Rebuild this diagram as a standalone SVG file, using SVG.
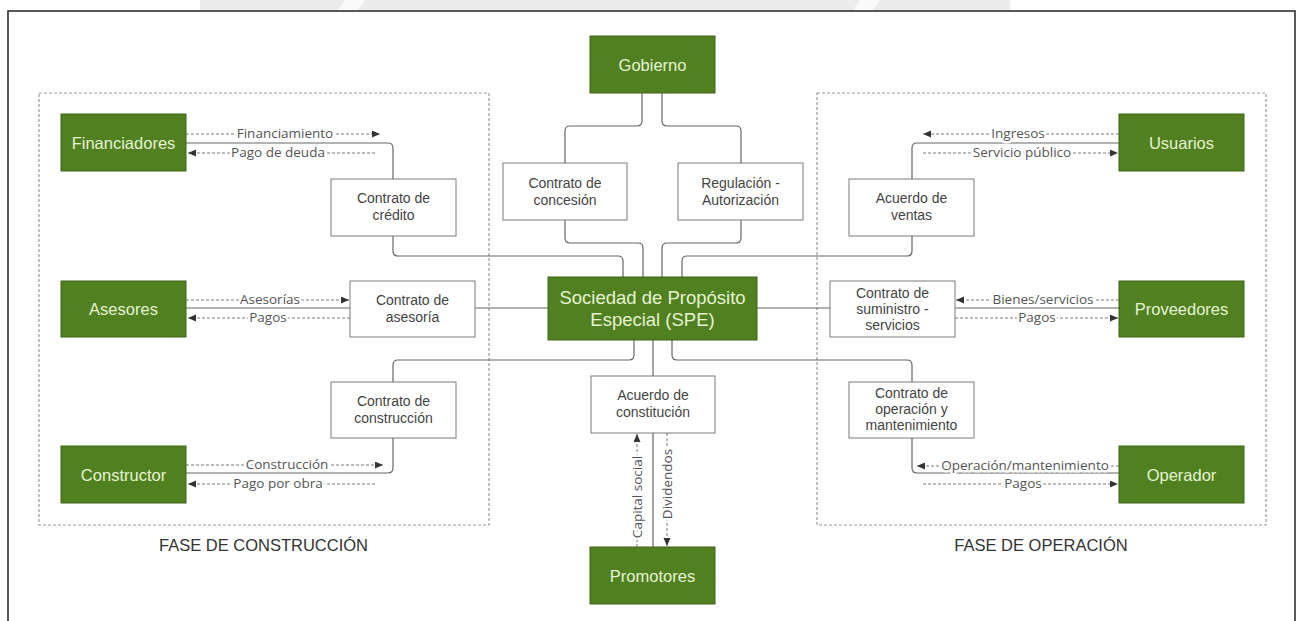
<svg xmlns="http://www.w3.org/2000/svg" width="1301" height="621" viewBox="0 0 1301 621">
<style>
.frame{fill:none;stroke:#222;stroke-width:1.5}
.phase{fill:none;stroke:#9a9a9a;stroke-width:1.2;stroke-dasharray:3 2}
.g rect{fill:#50801f;stroke:#3e651a;stroke-width:1}
.g text{font-family:"Liberation Sans",Arial,sans-serif;font-size:16.5px;fill:#e6f3d3;text-anchor:middle}
.w rect{fill:#fff;stroke:#7a7a7a;stroke-width:1}
.w text{font-family:"Liberation Sans",Arial,sans-serif;font-size:14px;fill:#444;text-anchor:middle}
.con{fill:none;stroke:#666;stroke-width:1.2}
.da{fill:none;stroke:#7a7a7a;stroke-width:1;stroke-dasharray:3 2}
.lbl{font-family:"Open Sans","Noto Sans",sans-serif;font-size:13.5px;fill:#555;text-anchor:middle;dominant-baseline:central;stroke:#fff;stroke-width:5;paint-order:stroke;stroke-linejoin:round}
.fase{font-family:"Liberation Sans",Arial,sans-serif;font-size:16.5px;fill:#333;text-anchor:middle}
</style>
<defs>
<marker id="ah" markerUnits="userSpaceOnUse" markerWidth="9" markerHeight="8" refX="8" refY="3.5" orient="auto">
<path d="M0,0 L8,3.5 L0,7 z" fill="#333"/>
</marker>
</defs>
<rect x="0" y="0" width="1301" height="621" fill="#fff"/>
<g id="watermark">
<rect x="200" y="0" width="810" height="10" fill="#ececec"/>
<polygon points="345,0 365,0 358,10 338,10" fill="#fafafa"/>
<polygon points="860,0 880,0 873,10 853,10" fill="#fafafa"/>
</g>
<rect class="frame" x="8" y="11" width="1287" height="630"/>
<g id="phase-construccion">
<rect class="phase" x="39" y="93" width="450" height="432"/>
<text class="fase" x="263.5" y="551">FASE DE CONSTRUCCIÓN</text>
</g>
<g id="phase-operacion">
<rect class="phase" x="817" y="93" width="449" height="432"/>
<text class="fase" x="1041" y="551">FASE DE OPERACIÓN</text>
</g>
<g id="connectors">
<path class="con" d="M642,93 V121 Q642,126 637,126 H570 Q565,126 565,131 V163"/>
<path class="con" d="M662,93 V121 Q662,126 667,126 H736 Q741,126 741,131 V163"/>
<path class="con" d="M565,220 V238 Q565,243 570,243 H638 Q643,243 643,248 V277"/>
<path class="con" d="M741,220 V238 Q741,243 736,243 H667 Q662,243 662,248 V277"/>
<path class="con" d="M186,143 H388 Q393,143 393,148 V179"/>
<path class="con" d="M393,236 V251 Q393,256 398,256 H618 Q623,256 623,261 V277"/>
<path class="con" d="M1119,143 H917 Q912,143 912,148 V179"/>
<path class="con" d="M912,236 V251 Q912,256 907,256 H687 Q682,256 682,261 V277"/>
<path class="con" d="M186,308 H350 M475,308 H548"/>
<path class="con" d="M757,308 H830 M955,308 H1119"/>
<path class="con" d="M634,340 V355 Q634,360 629,360 H398 Q393,360 393,365 V382"/>
<path class="con" d="M393,438 V468 Q393,473 388,473 H186"/>
<path class="con" d="M672,340 V355 Q672,360 677,360 H907 Q912,360 912,365 V382"/>
<path class="con" d="M912,438 V468 Q912,473 917,473 H1119"/>
<path class="con" d="M653,340 V376 M653,433 V547"/>
<path class="da" d="M186,134 H380" marker-end="url(#ah)"/>
<text class="lbl" x="285" y="133">Financiamiento</text>
<path class="da" d="M375,153 H188" marker-end="url(#ah)"/>
<text class="lbl" x="278" y="152">Pago de deuda</text>
<path class="da" d="M186,300 H349" marker-end="url(#ah)"/>
<text class="lbl" x="270" y="299">Asesorías</text>
<path class="da" d="M350,318 H188" marker-end="url(#ah)"/>
<text class="lbl" x="268" y="317">Pagos</text>
<path class="da" d="M186,465 H383" marker-end="url(#ah)"/>
<text class="lbl" x="287" y="464">Construcción</text>
<path class="da" d="M375,484 H188" marker-end="url(#ah)"/>
<text class="lbl" x="278" y="483">Pago por obra</text>
<path class="da" d="M1119,134 H923" marker-end="url(#ah)"/>
<text class="lbl" x="1018" y="133">Ingresos</text>
<path class="da" d="M923,153 H1118" marker-end="url(#ah)"/>
<text class="lbl" x="1022" y="152">Servicio público</text>
<path class="da" d="M1119,300 H956" marker-end="url(#ah)"/>
<text class="lbl" x="1043" y="299">Bienes/servicios</text>
<path class="da" d="M955,318 H1118" marker-end="url(#ah)"/>
<text class="lbl" x="1037" y="317">Pagos</text>
<path class="da" d="M1119,466 H917" marker-end="url(#ah)"/>
<text class="lbl" x="1025" y="465">Operación/mantenimiento</text>
<path class="da" d="M923,484 H1118" marker-end="url(#ah)"/>
<text class="lbl" x="1023" y="483">Pagos</text>
<path class="da" d="M637,547 V434" marker-end="url(#ah)"/>
<text class="lbl" transform="translate(637,497) rotate(-90)">Capital social</text>
<path class="da" d="M667,433 V546" marker-end="url(#ah)"/>
<text class="lbl" transform="translate(667,484) rotate(-90)">Dividendos</text>
</g>
<g id="gobierno" class="g"><rect x="590" y="36" width="125" height="57"/><text x="652.5" y="70.5">Gobierno</text></g>
<g id="financiadores" class="g"><rect x="61" y="114" width="125" height="57"/><text x="123.5" y="148.5">Financiadores</text></g>
<g id="asesores" class="g"><rect x="61" y="281" width="125" height="56"/><text x="123.5" y="315">Asesores</text></g>
<g id="constructor" class="g"><rect x="61" y="446" width="125" height="57"/><text x="123.5" y="480.5">Constructor</text></g>
<g id="usuarios" class="g"><rect x="1119" y="114" width="125" height="57"/><text x="1181.5" y="148.5">Usuarios</text></g>
<g id="proveedores" class="g"><rect x="1119" y="281" width="125" height="56"/><text x="1181.5" y="315">Proveedores</text></g>
<g id="operador" class="g"><rect x="1119" y="446" width="125" height="57"/><text x="1181.5" y="480.5">Operador</text></g>
<g id="promotores" class="g"><rect x="590" y="547" width="125" height="57"/><text x="652.5" y="581.5">Promotores</text></g>
<g id="spe" class="g"><rect x="548" y="277" width="209" height="63"/><text x="652.5" y="304" style="font-size:18.5px">Sociedad de Propósito</text><text x="652.5" y="326" style="font-size:18.5px">Especial (SPE)</text></g>
<g id="contrato-credito" class="w"><rect x="331" y="179" width="125" height="57"/><text x="393.5" y="203">Contrato de</text><text x="393.5" y="220">crédito</text></g>
<g id="contrato-asesoria" class="w"><rect x="350" y="281" width="125" height="56"/><text x="412.5" y="304.5">Contrato de</text><text x="412.5" y="321.5">asesoría</text></g>
<g id="contrato-construccion" class="w"><rect x="331" y="382" width="125" height="56"/><text x="393.5" y="405.5">Contrato de</text><text x="393.5" y="422.5">construcción</text></g>
<g id="contrato-concesion" class="w"><rect x="503" y="163" width="124" height="57"/><text x="565" y="187.5">Contrato de</text><text x="565" y="204.5">concesión</text></g>
<g id="regulacion" class="w"><rect x="678" y="163" width="125" height="57"/><text x="740.5" y="187.5">Regulación -</text><text x="740.5" y="204.5">Autorización</text></g>
<g id="acuerdo-ventas" class="w"><rect x="849" y="179" width="125" height="57"/><text x="911.5" y="203">Acuerdo de</text><text x="911.5" y="220">ventas</text></g>
<g id="contrato-suministro" class="w"><rect x="830" y="281" width="125" height="56"/><text x="892.5" y="298">Contrato de</text><text x="892.5" y="314">suministro -</text><text x="892.5" y="330">servicios</text></g>
<g id="contrato-operacion" class="w"><rect x="849" y="382" width="125" height="56"/><text x="911.5" y="398">Contrato de</text><text x="911.5" y="414">operación y</text><text x="911.5" y="430">mantenimiento</text></g>
<g id="acuerdo-constitucion" class="w"><rect x="591" y="376" width="124" height="57"/><text x="653" y="400">Acuerdo de</text><text x="653" y="417">constitución</text></g>
</svg>
